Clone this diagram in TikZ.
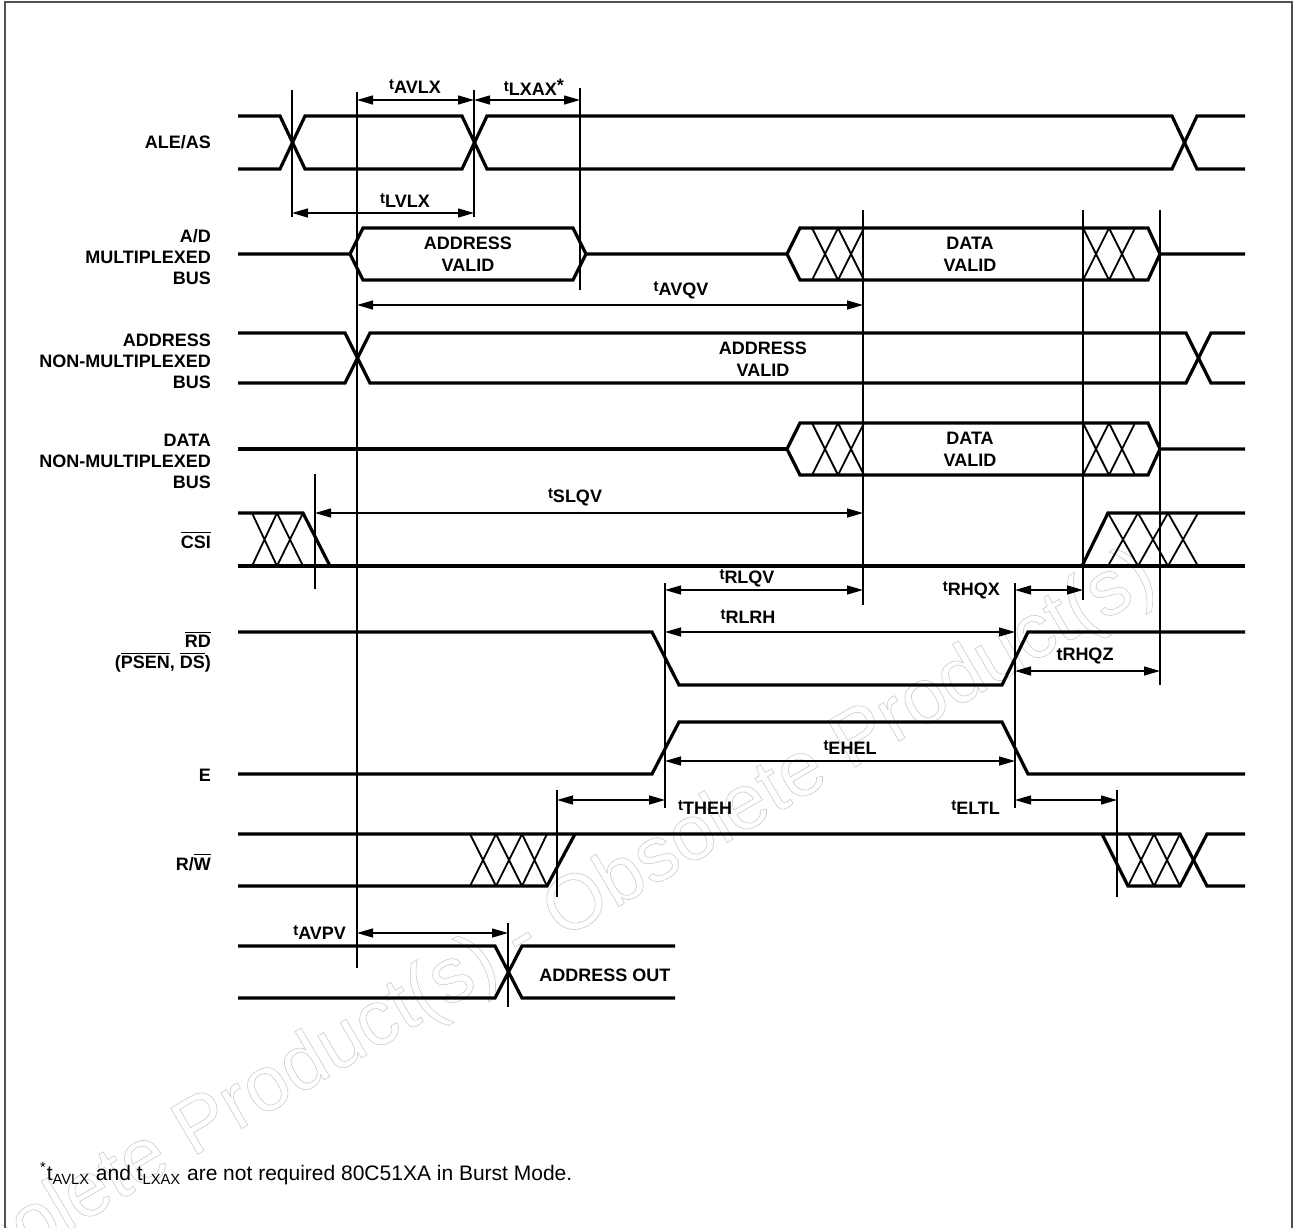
\documentclass[tikz,border=0pt]{standalone}
\usepackage{fontspec}
\setsansfont{Liberation Sans}
\usepackage{xcolor}
\usepackage{tikz}
\usetikzlibrary{arrows.meta}
\definecolor{tdink}{HTML}{000000}
\definecolor{tdmark}{HTML}{CACACA}
\definecolor{tdframe}{HTML}{505050}
\newcommand{\tsub}[1]{{\fontsize{7.5}{7.5}\selectfont t}\raisebox{-2pt}{#1}}
\newcommand{\ovl}[1]{$\overline{\mbox{#1}}$}
\newcommand{\hollow}[1]{\special{pdf:literal direct 0.3 w 1 Tr}#1\special{pdf:literal direct 0 Tr}}

\tikzset{
  sig/.style={tdink,line width=1.6pt,line join=miter},
  hatch/.style={tdink,line width=0.9pt},
  vline/.style={tdink,line width=0.65pt},
  dim/.style={tdink,line width=0.65pt,{Triangle[length=8pt,width=4.5pt]}-{Triangle[length=8pt,width=4.5pt]}},
  sname/.style={anchor=east,align=right},
  inbus/.style={align=center,font=\sffamily\bfseries\fontsize{9}{11}\selectfont},
  wmark/.style={text=tdmark,font=\sffamily\fontsize{39}{39}\selectfont},
}

\begin{document}
\begin{tikzpicture}[x=0.5pt,y=-0.5pt,font=\sffamily\bfseries\fontsize{9}{10.5}\selectfont]
  \useasboundingbox (0,0) rectangle (1298,1228);
  \begin{scope}
    \clip (0,0) rectangle (1298,1228);
    \node[wmark,rotate=30.5] (wm) at (522,940) {\hollow{Obsolete Product(s) - Obsolete Product(s)}};
  \end{scope}
  \draw[tdframe,line width=0.8pt] (5,1228) -- (5,2) -- (1292,2) -- (1292,1228);

  % signal names
  \node[sname] (ale) at (218,142) {ALE/AS};
  \node[sname] (adbus) at (218,257) {A/D\\MULTIPLEXED\\BUS};
  \node[sname] (abus) at (218,361) {ADDRESS\\NON-MULTIPLEXED\\BUS};
  \node[sname] (dbus) at (218,461) {DATA\\NON-MULTIPLEXED\\BUS};
  \node[sname] (csi) at (218,540) {\ovl{CSI}};
  \node[sname] (rd) at (218,652) {\ovl{RD}\\(\ovl{PSEN}, \ovl{DS})};
  \node[sname] (e) at (218,775) {E};
  \node[sname] (rw) at (218,862) {R/\ovl{W}};

  % waveforms
  \draw[sig] (238,116) -- (280,116) -- (305,169) -- (462,169) -- (487,116) -- (1172,116) -- (1197,169) -- (1245,169);
  \draw[sig] (238,169) -- (280,169) -- (305,116) -- (462,116) -- (487,169) -- (1172,169) -- (1197,116) -- (1245,116);

  \draw[sig] (238,254) -- (350,254) -- (363,228) -- (573,228) -- (586,254) -- (787,254);
  \draw[sig] (350,254) -- (363,280) -- (573,280) -- (586,254);
  \draw[sig] (238,449) -- (787,449);
  \foreach \m in {254,449} {
    \draw[sig] (787,\m) -- (800,\m-26) -- (1148,\m-26) -- (1160,\m) -- (1245,\m);
    \draw[sig] (787,\m) -- (800,\m+26) -- (1148,\m+26) -- (1160,\m);
    \foreach \x in {812,838,1083,1109}
      \draw[hatch] (\x,\m-26) -- (\x+26,\m+26) (\x,\m+26) -- (\x+26,\m-26);
  }

  \draw[sig] (238,333) -- (345,333) -- (370,383) -- (1186,383) -- (1211,333) -- (1245,333);
  \draw[sig] (238,383) -- (345,383) -- (370,333) -- (1186,333) -- (1211,383) -- (1245,383);

  \draw[sig] (238,513) -- (303,513) -- (330,566);
  \draw[sig] (238,566) -- (1245,566);
  \draw[sig] (1082,566) -- (1108,513) -- (1245,513);

  \draw[sig] (238,632) -- (652,632) -- (679,685) -- (1002,685) -- (1028,632) -- (1245,632);
  \draw[sig] (238,774) -- (652,774) -- (679,722) -- (1002,722) -- (1028,774) -- (1245,774);

  \draw[sig] (238,834) -- (1180,834) -- (1207,886) -- (1245,886);
  \draw[sig] (238,886) -- (547,886) -- (575,834);
  \draw[sig] (1102,834) -- (1128,886) -- (1180,886) -- (1207,834) -- (1245,834);

  \draw[sig] (238,946) -- (495,946) -- (522,998) -- (675,998);
  \draw[sig] (238,998) -- (495,998) -- (522,946) -- (675,946);

  \foreach \x/\w/\a/\b in {252/25/513/566, 277/26/513/566, 1108/30/513/566, 1138/30/513/566, 1168/30/513/566,
      470/26/834/886, 496/26/834/886, 522/25/834/886, 1128/26/834/886, 1154/26/834/886}
    \draw[hatch] (\x,\a) -- (\x+\w,\b) (\x,\b) -- (\x+\w,\a);

  \node[inbus] (advalid) at (468,254) {ADDRESS\\VALID};
  \node[inbus] (ddvalid) at (970,254) {DATA\\VALID};
  \node[inbus] (avalid) at (763,359) {ADDRESS\\VALID};
  \node[inbus] (dvalid) at (970,449) {DATA\\VALID};
  \node[inbus] (aout) at (605,975) {ADDRESS OUT};

  % timing marks
  \foreach \x/\a/\b in {292/90/217, 357/92/968, 474/90/217, 580/88/290, 863/210/605, 1083/210/600,
      1160/210/685, 315/474/589, 665/583/808, 1015/583/808, 557/790/897, 1117/790/897, 508/923/1007} {
    \coordinate (v\x) at (\x,\a);
    \draw[vline] (v\x) -- (\x,\b);
  }
  \foreach \p/\q/\y in {357/474/100, 474/580/100, 292/474/213, 357/863/305, 315/863/513, 665/863/590,
      1015/1083/590, 665/1015/632, 1015/1160/671, 665/1015/761, 557/665/800, 1015/1117/800, 357/508/933}
    \draw[dim] (v\p |- 0,\y) -- (v\q |- 0,\y);

  \node (tavlx) at (415,87) {\tsub{AVLX}};
  \node (tlxax) at (534,87) {\tsub{LXAX}*};
  \node (tlvlx) at (405,201) {\tsub{LVLX}};
  \node (tavqv) at (681,290) {\tsub{AVQV}};
  \node (tslqv) at (575,497) {\tsub{SLQV}};
  \node (trlqv) at (747,578) {\tsub{RLQV}};
  \node[anchor=east] (trhqx) at (1007,590) {\tsub{RHQX}};
  \node (trlrh) at (748,617) {\tsub{RLRH}};
  \node (trhqz) at (1085,656) {tRHQZ};
  \node (tehel) at (850,748) {\tsub{EHEL}};
  \node[anchor=west] (ttheh) at (671,808) {\tsub{THEH}};
  \node[anchor=east] (teltl) at (1007,808) {\tsub{ELTL}};
  \node[anchor=east] (tavpv) at (353,933) {\tsub{AVPV}};

  \node[anchor=west,font=\sffamily\fontsize{10.5}{12}\selectfont] (note) at (33,1174)
    {\textsuperscript{*}t\textsubscript{AVLX} and t\textsubscript{LXAX} are not required 80C51XA in Burst Mode.};
\end{tikzpicture}
\end{document}
